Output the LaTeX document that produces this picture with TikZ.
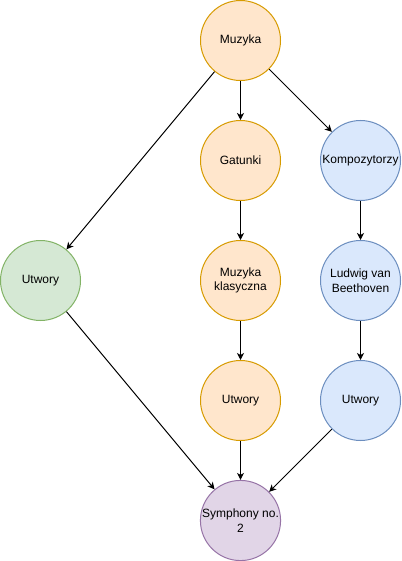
\documentclass[tikz,border=0pt]{standalone}
\usepackage{fontspec}
\setmainfont{Liberation Sans}
\usepackage{tikz}
\usetikzlibrary{arrows.meta}
\tikzset{>={Stealth[length=7pt, width=7pt, inset=2pt]}}
\definecolor{orfill}{HTML}{FFE6CC}
\definecolor{ordraw}{HTML}{D79B00}
\definecolor{blfill}{HTML}{DAE8FC}
\definecolor{bldraw}{HTML}{6C8EBF}
\definecolor{grfill}{HTML}{D5E8D4}
\definecolor{grdraw}{HTML}{82B366}
\definecolor{pufill}{HTML}{E1D5E7}
\definecolor{pudraw}{HTML}{9673A6}
\tikzset{
    topic/.style={circle, draw, line width=1pt, minimum size=80pt, inner sep=0pt,
        align=center, font=\fontsize{12}{14.5}\selectfont},
    orange/.style={topic, fill=orfill, draw=ordraw},
    blue/.style={topic, fill=blfill, draw=bldraw},
    green/.style={topic, fill=grfill, draw=grdraw},
    purple/.style={topic, fill=pufill, draw=pudraw},
    link/.style={->, line width=1pt}
}

\begin{document}
\begin{tikzpicture}[x=40pt, y=-40pt]
    \useasboundingbox(-0.0125, -0.0125) rectangle (10.0125, 14.0125);
    \node[orange](muz) at (6, 1) {Muzyka};
    \node[orange](gat) at (6, 4) {Gatunki};
    \node[orange](kla) at (6, 7) {Muzyka\\klasyczna};
    \node[orange](utw) at (6, 10) {Utwory};
    \node[blue](kom) at (9, 4) {Kompozytorzy};
    \node[blue](lvb) at (9, 7) {Ludwig van\\Beethoven};
    \node[blue](utb) at (9, 10) {Utwory};
    \node[green](utg) at (1, 7) {Utwory};
    \node[purple](sym) at (6, 13) {Symphony no.\\2};
    \draw[link](muz)--(gat);
    \draw[link](gat)--(kla);
    \draw[link](kla)--(utw);
    \draw[link](utw)--(sym);
    \draw[link](muz)--(kom);
    \draw[link](kom)--(lvb);
    \draw[link](lvb)--(utb);
    \draw[link](utb)--(sym);
    \draw[link](muz)--(utg);
    \draw[link](utg)--(sym);
\end{tikzpicture}
\end{document}
